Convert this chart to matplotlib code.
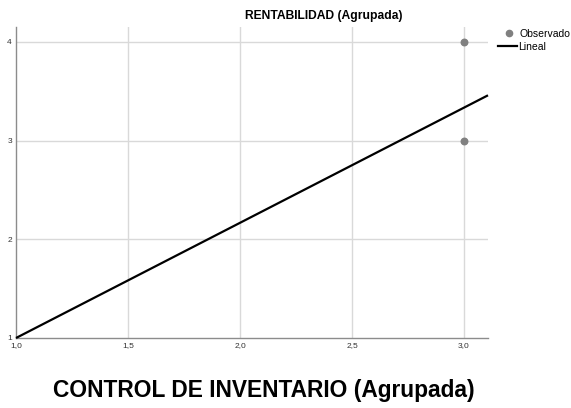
import matplotlib
matplotlib.use("Agg")
import matplotlib.pyplot as plt
import numpy as np

plt.rcParams['font.family'] = ['Liberation Sans', 'DejaVu Sans']

# Data
obs_x = [3.0, 3.0]
obs_y = [4.0, 3.0]
fit_intercept = -0.1667
fit_slope = 1.1667
x_ticks = [1.0, 1.5, 2.0, 2.5, 3.0]
x_tick_labels = ["1,0", "1,5", "2,0", "2,5", "3,0"]
y_ticks = [1, 2, 3, 4]
y_tick_labels = ["1", "2", "3", "4"]

W, H = 571, 408
fig = plt.figure(figsize=(W/100, H/100), dpi=100)
l, r, t, b = 16, 488, 27, 338
ax = fig.add_axes([l/W, 1 - b/H, (r-l)/W, (b-t)/H])

xmin, xmax = 1.0, 3.107
ymin, ymax = 1.0, 4.15
ax.set_xlim(xmin, xmax)
ax.set_ylim(ymin, ymax)

grid_c = '#d9d9d9'
for xv in x_ticks[1:]:
    ax.axvline(xv, color=grid_c, lw=1.0, zorder=0)
for yv in y_ticks[1:]:
    ax.axhline(yv, color=grid_c, lw=1.0, zorder=0)

xl = np.array([xmin, xmax])
ax.plot(xl, fit_intercept + fit_slope * xl, color='black', lw=1.6, zorder=3,
        solid_capstyle='butt', label='Lineal', clip_on=False)
ax.scatter(obs_x, obs_y, s=22, color='#808080', zorder=4, label='Observado',
           clip_on=False)

for s in ['top', 'right']:
    ax.spines[s].set_visible(False)
for s in ['left', 'bottom']:
    ax.spines[s].set_color('#8c8c8c')
    ax.spines[s].set_linewidth(1.0)

ax.set_xticks(x_ticks)
ax.set_xticklabels(x_tick_labels)
ax.set_yticks(y_ticks)
ax.set_yticklabels(y_tick_labels)
ax.tick_params(axis='both', length=0, labelsize=6, colors='#333333')
ax.tick_params(axis='x', pad=3)
ax.tick_params(axis='y', pad=3)

fig.text(324/W, 1 - 16/H, 'RENTABILIDAD (Agrupada)', ha='center', va='center',
         fontsize=8.7, fontweight='bold')
fig.text(264/W, 1 - 391/H, 'CONTROL DE INVENTARIO (Agrupada)', ha='center',
         va='center', fontsize=16.4, fontweight='bold')

# Legend
fig.lines.append(matplotlib.lines.Line2D([509/W], [1 - 33/H], marker='o',
                 markersize=4.5, color='#808080', linestyle='none',
                 transform=fig.transFigure))
fig.text(520/W, 1 - 34/H, 'Observado', ha='left', va='center', fontsize=7.5)
fig.lines.append(matplotlib.lines.Line2D([498/W, 517/W], [1 - 46/H, 1 - 46/H],
                 color='black', lw=1.6, transform=fig.transFigure))
fig.text(518/W, 1 - 46.5/H, 'Lineal', ha='left', va='center', fontsize=7.5)

fig.savefig('out.png', dpi=100, facecolor='white')
